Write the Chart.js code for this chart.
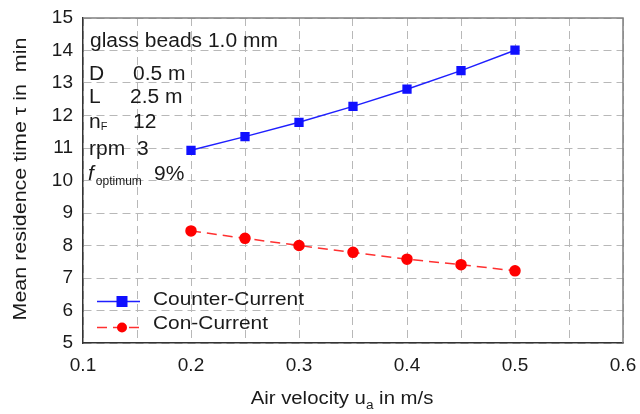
<!DOCTYPE html>
<html>
<head>
<meta charset="utf-8">
<script src="https://cdn.jsdelivr.net/npm/chart.js@4.4.0/dist/chart.umd.min.js"></script>
<style>
  html, body { margin: 0; padding: 0; background: #fff; }
  #wrap { width: 640px; height: 414px; }
</style>
</head>
<body>
<div id="wrap"><canvas id="rtChart" width="640" height="414"></canvas></div>
<script>
// Données
const airVelocity = [0.2, 0.25, 0.3, 0.35, 0.4, 0.45, 0.5];
const counterCurrent = [10.93, 11.35, 11.79, 12.28, 12.81, 13.38, 14.01];
const conCurrent = [8.45, 8.22, 8.0, 7.79, 7.58, 7.41, 7.22];
const xTickLabels = ['0.1', '0.2', '0.3', '0.4', '0.5', '0.6'];
const yTicks = [5, 6, 7, 8, 9, 10, 11, 12, 13, 14, 15];

const FONT = '"Liberation Sans", Arial, sans-serif';
const INK = '#1a1a1a';

const toPoints = (xs, ys) => xs.map((x, i) => ({ x: x, y: ys[i] }));

// Texte un peu élargi, comme dans la figure d'origine
function txt(ctx, s, x, y, size, stretch, italic) {
  ctx.save();
  ctx.font = (italic ? 'italic ' : '') + size + 'px ' + FONT;
  ctx.translate(x, y);
  ctx.scale(stretch || 1, 1);
  ctx.fillText(s, 0, 0);
  const w = ctx.measureText(s).width * (stretch || 1);
  ctx.restore();
  return w;
}

// Textes, cadre et légende dessinés sur le canvas
const decorations = {
  id: 'decorations',
  beforeDatasetsDraw(chart) {
    const { ctx, chartArea: a } = chart;
    ctx.save();
    ctx.strokeStyle = '#808080';
    ctx.lineWidth = 1.5;
    ctx.beginPath();
    ctx.moveTo(a.left, a.top);
    ctx.lineTo(a.right, a.top);
    ctx.lineTo(a.right, a.bottom);
    ctx.stroke();
    ctx.restore();
  },
  afterDraw(chart) {
    const { ctx } = chart;
    ctx.save();
    ctx.fillStyle = INK;
    ctx.textBaseline = 'alphabetic';
    ctx.textAlign = 'left';

    // Paramètres de l'essai
    const S = 20, K = 1.05;
    txt(ctx, 'glass beads 1.0 mm', 90, 47, S, K);
    txt(ctx, 'D', 89, 80, S, K);
    txt(ctx, '0.5 m', 133, 80, S, K);
    txt(ctx, 'L', 89, 103, S, K);
    txt(ctx, '2.5 m', 130, 103, S, K);
    const wn = txt(ctx, 'n', 89, 128, S, K);
    txt(ctx, 'F', 89 + wn, 130, 10, 1.1);
    txt(ctx, '12', 133, 128, S, K);
    txt(ctx, 'rpm', 89, 155, S, K);
    txt(ctx, '3', 137, 155, S, K);
    const wf = txt(ctx, 'f', 88, 180, S, K, true);
    txt(ctx, 'optimum', 88 + wf + 2, 185, 12, 1.0);
    txt(ctx, '9%', 154, 180, S, K);

    // Légende
    const sets = chart.data.datasets;
    const rows = [{ line: 301.5, base: 304.5 }, { line: 327.5, base: 329 }];
    sets.forEach((ds, i) => {
      const r = rows[i];
      ctx.strokeStyle = ds.borderColor;
      ctx.lineWidth = ds.borderWidth;
      ctx.setLineDash(ds.borderDash || []);
      ctx.beginPath();
      ctx.moveTo(97, r.line);
      ctx.lineTo(140, r.line);
      ctx.stroke();
      ctx.setLineDash([]);
      ctx.fillStyle = ds.pointBackgroundColor;
      if (ds.pointStyle === 'rect') {
        ctx.fillRect(122 - 5.5, r.line - 5.5, 11, 11);
      } else {
        ctx.beginPath();
        ctx.arc(122, r.line, 5, 0, Math.PI * 2);
        ctx.fill();
      }
      ctx.fillStyle = INK;
      txt(ctx, ds.label, 153, r.base, 19, 1.1);
    });

    // Titre de l'axe x avec indice
    const T = 18, TK = 1.13;
    ctx.font = T + 'px ' + FONT;
    const w1 = ctx.measureText('Air velocity u').width * TK;
    const w2 = ctx.measureText(' in m/s').width * TK;
    ctx.font = '12px ' + FONT;
    const wSub = ctx.measureText('a').width * TK;
    const x0 = 342 - (w1 + wSub + w2) / 2;
    txt(ctx, 'Air velocity u', x0, 404, T, TK);
    txt(ctx, 'a', x0 + w1, 409, 12, TK);
    txt(ctx, ' in m/s', x0 + w1 + wSub, 404, T, TK);

    // Titre de l'axe y
    ctx.translate(26, 179);
    ctx.rotate(-Math.PI / 2);
    ctx.font = '19px ' + FONT;
    const wy = ctx.measureText('Mean residence time \u03c4 in  min').width * 1.13;
    txt(ctx, 'Mean residence time \u03c4 in  min', -wy / 2, 0, 19, 1.13);
    ctx.restore();
  }
};

const canva = document.getElementById('rtChart');
new Chart(canva, {
  type: 'line',
  data: {
    datasets: [
      {
        label: 'Counter-Current',
        data: toPoints(airVelocity, counterCurrent),
        borderColor: '#1f1fff',
        backgroundColor: '#1010ff',
        pointBackgroundColor: '#1010ff',
        pointBorderColor: '#1010ff',
        borderWidth: 1.5,
        pointStyle: 'rect',
        pointRadius: 5.5,
        tension: 0
      },
      {
        label: 'Con-Current',
        data: toPoints(airVelocity, conCurrent),
        borderColor: '#ff3030',
        backgroundColor: '#ff0000',
        pointBackgroundColor: '#ff0000',
        pointBorderColor: '#ff0000',
        borderWidth: 1.5,
        borderDash: [10, 6],
        pointStyle: 'circle',
        pointRadius: 5,
        tension: 0
      }
    ]
  },
  options: {
    responsive: false,
    animation: false,
    layout: { padding: { top: 18, right: 17, left: 0, bottom: 0 } },
    plugins: {
      legend: { display: false },
      tooltip: { enabled: false }
    },
    scales: {
      x: {
        type: 'linear',
        min: 0.1,
        max: 0.6,
        afterFit: s => {
          s.height = 71;
          s.paddingLeft = 0;
          s.paddingRight = 0;
        },
        afterBuildTicks: s => {
          s.ticks = [];
          for (let i = 0; i <= 10; i++) s.ticks.push({ value: 0.1 + i * 0.05 });
        },
        ticks: {
          color: INK,
          font: { family: FONT, size: 19 },
          padding: 11,
          maxRotation: 0,
          autoSkip: false,
          callback: (v, i) => (i % 2 === 0 ? xTickLabels[i / 2] : '')
        },
        grid: { color: '#b8b8b8', lineWidth: 1, drawTicks: false },
        border: { color: '#333', width: 1.5, dash: [8, 5] }
      },
      y: {
        min: 5,
        max: 15,
        afterFit: s => {
          s.width = 83;
          s.paddingTop = 0;
          s.paddingBottom = 0;
        },
        afterBuildTicks: s => { s.ticks = yTicks.map(v => ({ value: v })); },
        ticks: {
          color: INK,
          font: { family: FONT, size: 19 },
          padding: 10
        },
        grid: { color: '#b8b8b8', lineWidth: 1, drawTicks: false },
        border: { color: '#333', width: 1.5, dash: [8, 5] }
      }
    }
  },
  plugins: [decorations]
});
</script>
</body>
</html>
